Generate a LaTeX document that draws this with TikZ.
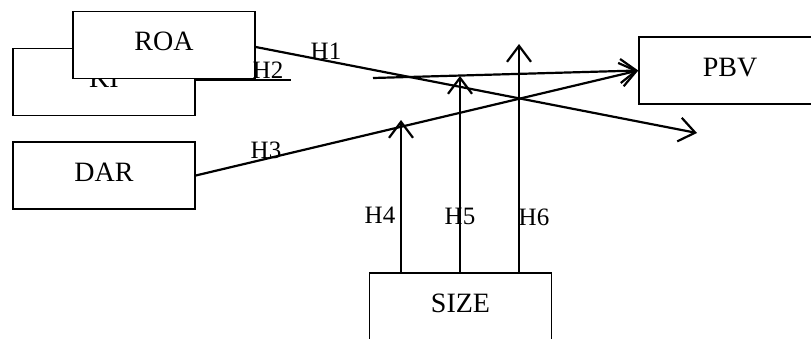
\documentclass[tikz,border=0pt]{standalone}
\usepackage{fontspec}
\setmainfont{Liberation Serif}
\usetikzlibrary{arrows.meta}
\begin{document}
\begin{tikzpicture}[x=1pt,y=-1pt,
  varbox/.style={draw=black,line width=1.5pt,fill=white,minimum width=182pt,minimum height=67pt,inner sep=0pt,text depth=7pt,font=\fontsize{28}{32}\selectfont},
  hlabel/.style={inner sep=0pt,font=\fontsize{25}{30}\selectfont},
  link/.style={line width=2.2pt,draw=black},
  arr/.style={link,-{Straight Barb[length=16pt,width=24pt,line width=2.2pt]}}]
\useasboundingbox (0,0) rectangle (811,338);
% boxes
\node[varbox] (KI) at (104,82) {KI};
\node[varbox] (ROA) at (164,45) {ROA};
\node[varbox] (DAR) at (104,175.5) {DAR};
\node[varbox] (PBV) at (730,70.5) {PBV};
\node[varbox] (SIZE) at (460.5,306.5) {SIZE};
% free coordinates
\coordinate (h1end) at (697,133);
\coordinate (h2a) at (291,80);
\coordinate (h2b) at (373,78);
\coordinate (h4) at (401,120);
\coordinate (h5) at (460,76);
\coordinate (h6) at (519,44);
% connectors
\draw[arr] ([yshift=-2pt]ROA.east) -- (h1end);
\draw[link] ([yshift=2pt]KI.east) -- (h2a);
\draw[arr] (h2b) -- (PBV.west);
\draw[arr] (DAR.east) -- (PBV.west);
\draw[arr] (h4 |- SIZE.north) -- (h4);
\draw[arr] (h5 |- SIZE.north) -- (h5);
\draw[arr] (h6 |- SIZE.north) -- (h6);
% labels
\node[hlabel] (L1) at (326,51) {H1};
\node[hlabel] (L2) at (268,70) {H2};
\node[hlabel] (L3) at (266,150) {H3};
\node[hlabel] (L4) at (380,215) {H4};
\node[hlabel] (L5) at (460,216) {H5};
\node[hlabel] (L6) at (534,217) {H6};
\end{tikzpicture}
\end{document}
